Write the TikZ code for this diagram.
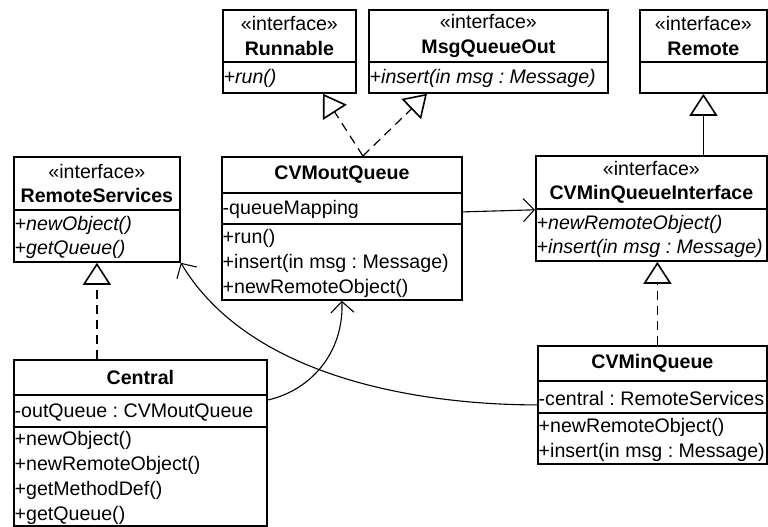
\documentclass[tikz,border=0pt]{standalone}
\usepackage{fontspec}
\setmainfont{Liberation Sans}
\usetikzlibrary{arrows.meta,calc}
\frenchspacing
\newcommand\umlfont{\fontsize{19.6pt}{24.8pt}\selectfont}
\tikzset{
  part/.style={draw, line width=1.8pt, anchor=north west, inner sep=0pt},
  head/.style={anchor=center, align=center, font=\umlfont, inner sep=0pt},
  members/.style={anchor=west, align=left, font=\umlfont, inner xsep=1.5pt, inner ysep=0pt, yshift=-1.5pt},
  abstract/.style={members, font=\umlfont\itshape},
  realize/.style={line width=1.2pt, dash pattern=on 9pt off 6pt,
    -{Triangle[open, length=22pt, width=28pt, line width=1.6pt]}},
  extend/.style={line width=1.2pt,
    -{Triangle[open, length=22pt, width=28pt, line width=1.6pt]}},
  assoc/.style={line width=1.1pt,
    -{Straight Barb[length=11pt, width=23pt, line width=1.1pt]}},
}
\begin{document}
\begin{tikzpicture}[x=1pt, y=-1pt]
\useasboundingbox (0,0) rectangle (768,527);

% Runnable
\node[part, minimum width=133pt, minimum height=52pt] (run-h) at (222,9) {};
\node[head] (run-ht) at (run-h.center) {«interface»\\\textbf{Runnable}};
\node[part, minimum width=133pt, minimum height=31pt] (run-m) at (222,61) {};
\node[abstract] (run-mt) at (run-m.west) {+run()};

% MsgQueueOut
\node[part, minimum width=239pt, minimum height=52pt] (mo-h) at (368,9) {};
\node[head] (mo-ht) at (mo-h.center) {«interface»\\\textbf{MsgQueueOut}};
\node[part, minimum width=239pt, minimum height=31pt] (mo-m) at (368,61) {};
\node[abstract] (mo-mt) at (mo-m.west) {+insert(in msg : Message)};

% Remote
\node[part, minimum width=127pt, minimum height=52pt] (rem-h) at (639,9) {};
\node[head] (rem-ht) at (rem-h.center) {«interface»\\\textbf{Remote}};
\node[part, minimum width=127pt, minimum height=31pt] (rem-m) at (639,61) {};

% RemoteServices
\node[part, minimum width=166pt, minimum height=53pt] (rs-h) at (13,156) {};
\node[head] (rs-ht) at (rs-h.center) {«interface»\\\textbf{RemoteServices}};
\node[part, minimum width=166pt, minimum height=52pt] (rs-m) at (13,209) {};
\node[abstract] (rs-mt) at (rs-m.west) {+newObject()\\+getQueue()};

% CVMoutQueue
\node[part, minimum width=240pt, minimum height=36pt] (mq-h) at (221,156) {};
\node[head] (mq-ht) at (mq-h.center) {\textbf{CVMoutQueue}};
\node[part, minimum width=240pt, minimum height=31pt] (mq-a) at (221,192) {};
\node[members] (mq-at) at (mq-a.west) {-queueMapping};
\node[part, minimum width=240pt, minimum height=76pt] (mq-m) at (221,223) {};
\node[members] (mq-mt) at (mq-m.west) {+run()\\+insert(in msg : Message)\\+newRemoteObject()};

% CVMinQueueInterface
\node[part, minimum width=231pt, minimum height=53pt] (cmi-h) at (535,155) {};
\node[head] (cmi-ht) at (cmi-h.center) {«interface»\\\textbf{CVMinQueueInterface}};
\node[part, minimum width=231pt, minimum height=52pt] (cmi-m) at (535,208) {};
\node[abstract] (cmi-mt) at (cmi-m.west) {+newRemoteObject()\\+insert(in msg : Message)};

% Central
\node[part, minimum width=253pt, minimum height=35pt] (cen-h) at (13,359) {};
\node[head] (cen-ht) at (cen-h.center) {\textbf{Central}};
\node[part, minimum width=253pt, minimum height=32pt] (cen-a) at (13,394) {};
\node[members] (cen-at) at (cen-a.west) {-outQueue : CVMoutQueue};
\node[part, minimum width=253pt, minimum height=99pt] (cen-m) at (13,426) {};
\node[members] (cen-mt) at (cen-m.west) {+newObject()\\+newRemoteObject()\\+getMethodDef()\\+getQueue()};

% CVMinQueue
\node[part, minimum width=229pt, minimum height=35pt] (cmq-h) at (537,345) {};
\node[head] (cmq-ht) at (cmq-h.center) {\textbf{CVMinQueue}};
\node[part, minimum width=229pt, minimum height=32pt] (cmq-a) at (537,380) {};
\node[members] (cmq-at) at (cmq-a.west) {-central : RemoteServices};
\node[part, minimum width=229pt, minimum height=51pt] (cmq-m) at (537,412) {};
\node[members] (cmq-mt) at (cmq-m.west) {+newRemoteObject()\\+insert(in msg : Message)};

% realizations and generalization
\coordinate (mq-top) at ([xshift=21pt]mq-h.north);
\draw[realize] (mq-top) -- ([xshift=101pt]run-m.south west);
\draw[realize] (mq-top) -- ([xshift=59pt]mo-m.south west);
\draw[extend] (rem-m.south |- cmi-h.north) -- (rem-m.south);
\draw[realize] (rs-m.south |- cen-h.north) -- (rs-m.south);
\coordinate (cmq-top) at ([xshift=5pt]cmq-h.north);
\draw[realize] (cmq-top) -- (cmq-top |- cmi-m.south);

% associations
\draw[assoc] ([yshift=-3.5pt]mq-a.east) -- (cmi-h.south west);
\draw[assoc] ([yshift=-6pt]cen-a.north east) .. controls +(44,-10) and +(2,51) .. (mq-m.south);
\draw[assoc] ([yshift=-8pt]cmq-a.west) .. controls +(-107,0) and +(71,119) .. (rs-m.south east);
\end{tikzpicture}
\end{document}
